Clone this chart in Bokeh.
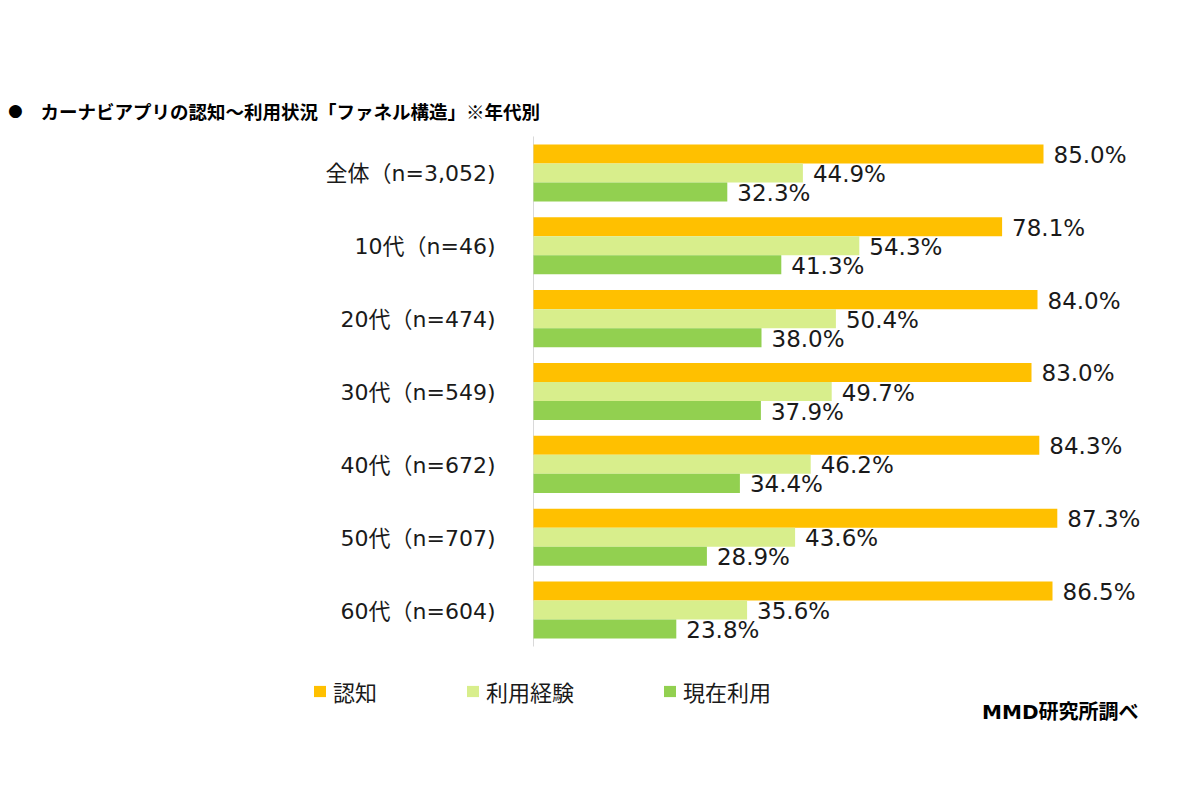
from bokeh.plotting import figure
from bokeh.models import (ColumnDataSource, FactorRange, Range1d, Label, Legend,
                          LegendItem)
from bokeh.transform import dodge
from bokeh.core.properties import value
from bokeh.embed import file_html
from bokeh.resources import INLINE

categories = ["全体（n=3,052)", "10代（n=46)", "20代（n=474)", "30代（n=549)",
              "40代（n=672)", "50代（n=707)", "60代（n=604)"]
series_names = ["認知", "利用経験", "現在利用"]
awareness = [85.0, 78.1, 84.0, 83.0, 84.3, 87.3, 86.5]
experience = [44.9, 54.3, 50.4, 49.7, 46.2, 43.6, 35.6]
current = [32.3, 41.3, 38.0, 37.9, 34.4, 28.9, 23.8]

title_text = "カーナビアプリの認知～利用状況「ファネル構造」※年代別"
source_text = "MMD研究所調べ"

colors = ["#FFC000", "#D8EE8C", "#92D050"]
offsets = [0.261, 0.0, -0.261]
bar_h = 0.261

LATIN_CJK = "DejaVu Sans, Noto Sans CJK JP"
W, H = 1184, 782

p = figure(width=W, height=H, output_backend="svg", toolbar_location=None,
           y_range=FactorRange(factors=list(reversed(categories)),
                               range_padding=1.8666, range_padding_units="absolute"),
           x_range=Range1d(-533 / 6, (W - 533) / 6),
           min_border_left=0, min_border_right=0, min_border_top=0,
           min_border_bottom=0)
p.outline_line_color = None
p.background_fill_color = "white"
p.border_fill_color = "white"
p.xgrid.visible = False
p.ygrid.visible = False
p.xaxis.visible = False
p.yaxis.visible = False

# vertical axis line at 0, spanning the category block
axis_src = ColumnDataSource(dict(x=[0], top=[categories[0]], bottom=[categories[-1]]))
p.segment(x0="x", x1="x", y0=dodge("top", 0.5, range=p.y_range),
          y1=dodge("bottom", -0.5, range=p.y_range), source=axis_src,
          line_color="#D9D9D9", line_width=1)

# category labels
cat_src = ColumnDataSource(dict(cat=categories, x=[0] * len(categories)))
p.text(x="x", y="cat", text="cat", source=cat_src, x_offset=-38, y_offset=1,
       text_align="right", text_baseline="middle", text_font=value(LATIN_CJK),
       text_font_size="22px", text_color="#1a1a1a")

items = []
for name, vals, col, off in zip(series_names, [awareness, experience, current], colors, offsets):
    src = ColumnDataSource(dict(cat=categories, v=vals, lab=[f"{x:.1f}%" for x in vals]))
    r = p.hbar(y=dodge("cat", off, range=p.y_range), right="v", left=0, height=bar_h,
               source=src, fill_color=col, line_color=None)
    p.text(x="v", y=dodge("cat", off, range=p.y_range), text="lab", source=src,
           x_offset=10, y_offset=1, text_baseline="middle", text_align="left",
           text_font_size="23px", text_color="#1a1a1a", text_font=value("DejaVu Sans"))
    items.append(LegendItem(label=name, renderers=[r]))

legend = Legend(items=items, location=(312, 75), orientation="horizontal",
                glyph_width=15, glyph_height=14, label_standoff=6, spacing=88,
                padding=0, margin=0, border_line_color=None,
                background_fill_alpha=0, label_text_font="Noto Sans CJK JP",
                label_text_font_size="22px", label_text_color="#1a1a1a")
p.add_layout(legend, "center")

p.add_layout(Label(x=15, y=H - 109, x_units="screen", y_units="screen", text="●",
                   text_font="DejaVu Sans", text_font_size="17px", text_align="center",
                   text_baseline="middle", text_color="#000000"))
p.add_layout(Label(x=40, y=H - 110, x_units="screen", y_units="screen", text=title_text,
                   text_font="Noto Sans CJK JP", text_font_style="bold",
                   text_font_size="18.5px", text_align="left", text_baseline="middle",
                   text_color="#000000"))
p.add_layout(Label(x=1138, y=H - 711, x_units="screen", y_units="screen", text=source_text,
                   text_font=LATIN_CJK, text_font_style="bold",
                   text_font_size="20px", text_align="right", text_baseline="middle",
                   text_color="#000000"))

open("out.html", "w").write(file_html(p, INLINE))
